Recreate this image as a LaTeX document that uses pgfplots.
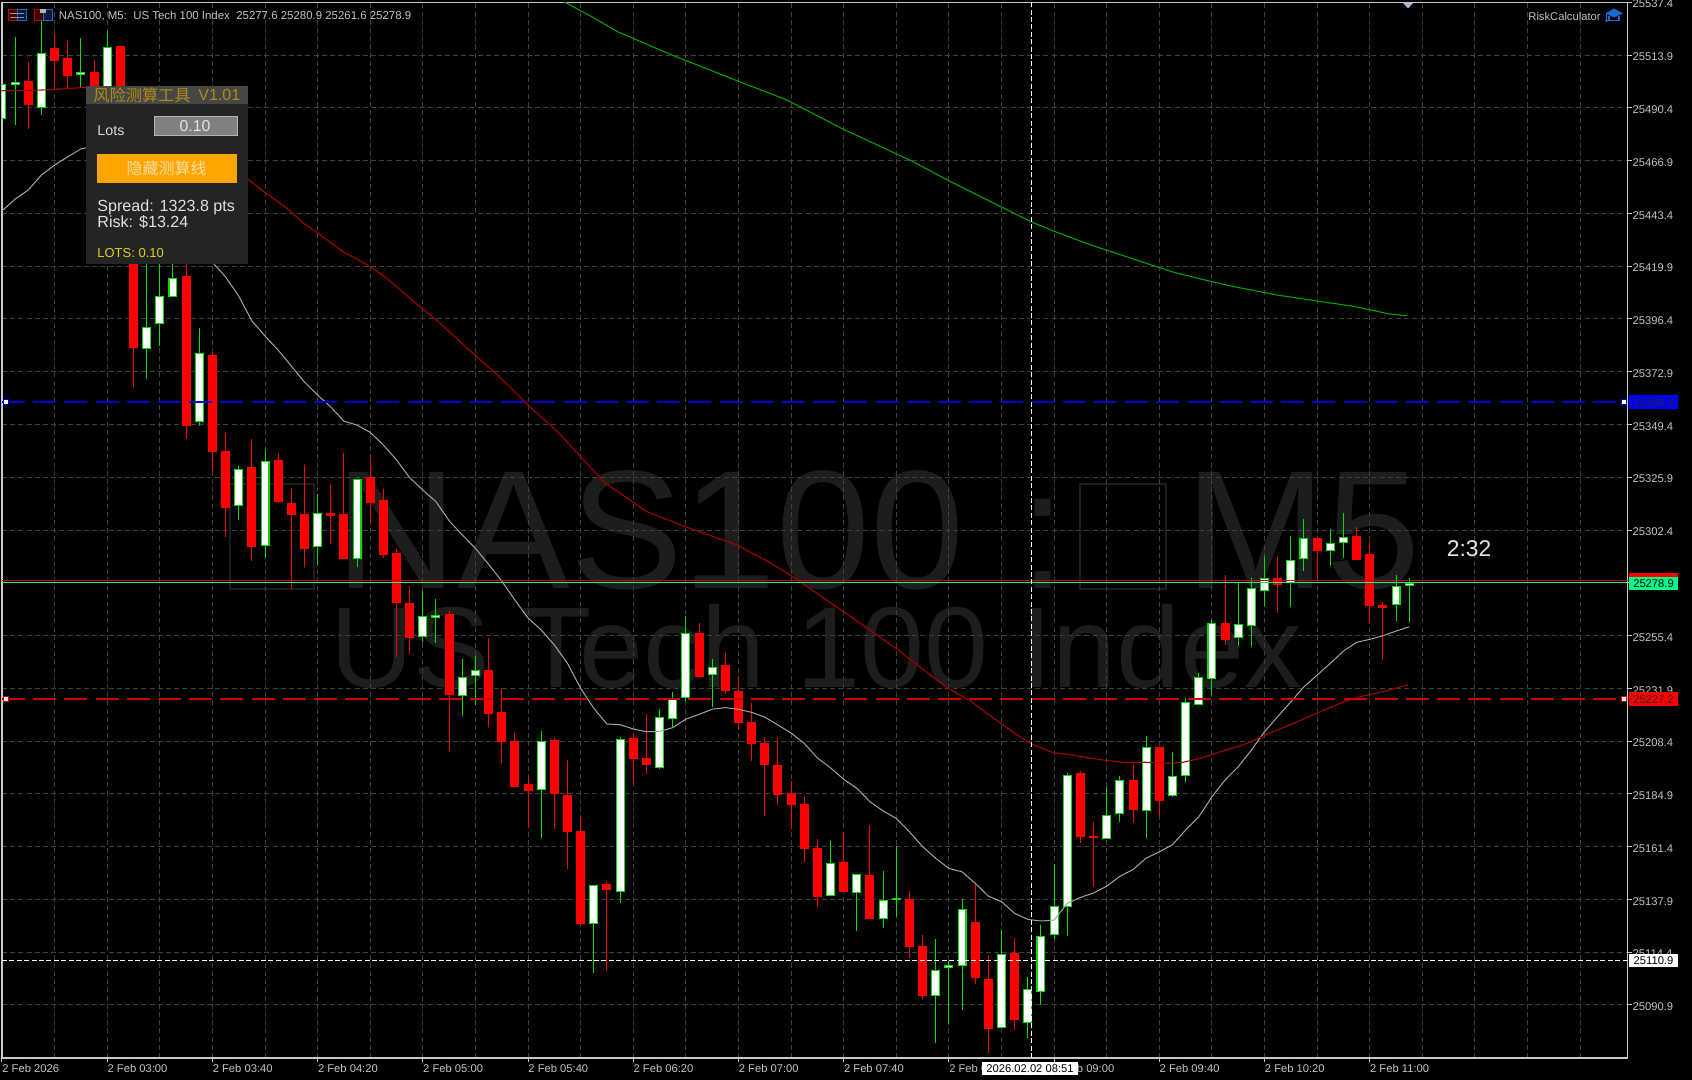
\documentclass[border=0pt]{standalone}
\usepackage{fontspec}
\setmainfont{Liberation Sans}
\newfontfamily\cjk{Noto Sans CJK SC}
\usepackage{pgfplots}
\usepackage{pgfplotstable}
\pgfplotsset{compat=1.18}

\definecolor{gridc}{RGB}{64,64,64}
\definecolor{axisc}{RGB}{200,200,200}
\definecolor{labelc}{RGB}{195,195,195}
\definecolor{wm}{RGB}{29,29,29}
\definecolor{bull}{RGB}{0,225,0}
\definecolor{bear}{RGB}{255,0,0}
\definecolor{magray}{RGB}{165,165,165}
\definecolor{mared}{RGB}{165,0,0}
\definecolor{magreen}{RGB}{0,160,0}
\definecolor{stopblue}{RGB}{0,0,215}
\definecolor{stopred}{RGB}{205,0,0}
\definecolor{bidc}{RGB}{0,250,140}
\definecolor{panel}{RGB}{36,36,36}
\definecolor{panelhead}{RGB}{70,70,70}
\definecolor{gold}{RGB}{175,140,20}
\definecolor{orangebtn}{RGB}{255,165,0}
\definecolor{capblue}{RGB}{25,105,210}

% rising bars, n open high low close
\pgfplotstableread{
n o h l c
0 25485.3 25501.0 25483.2 25501.0
1 25500.5 25521.8 25482.7 25501.8
3 25490.4 25531.7 25487.2 25514.9
6 25504.9 25521.5 25499.7 25506.2
8 25496.1 25524.6 25493.9 25517.6
11 25382.9 25427.1 25369.6 25392.9
12 25394.0 25424.8 25384.5 25406.6
13 25406.3 25422.6 25406.3 25414.5
15 25350.6 25392.2 25348.8 25381.3
18 25313.2 25330.9 25306.8 25329.4
20 25295.4 25338.0 25289.8 25333.1
24 25294.7 25318.3 25286.8 25310.1
27 25289.6 25325.0 25285.8 25325.0
32 25254.7 25275.4 25252.4 25264.0
33 25263.2 25271.5 25252.2 25264.7
35 25228.5 25244.9 25219.7 25236.8
36 25237.2 25246.3 25224.5 25239.9
41 25186.7 25212.9 25165.4 25208.3
45 25126.8 25144.4 25105.3 25144.4
47 25141.3 25210.4 25136.2 25209.5
50 25196.3 25222.6 25196.0 25219.0
51 25218.2 25230.4 25214.8 25227.7
52 25227.7 25264.1 25226.2 25256.4
54 25237.7 25244.8 25223.7 25241.5
63 25139.3 25163.9 25139.3 25154.2
65 25140.7 25149.3 25124.0 25149.3
67 25129.3 25150.4 25125.2 25137.5
68 25137.5 25161.7 25130.2 25138.4
71 25095.0 25120.3 25074.1 25106.3
72 25107.4 25110.5 25082.4 25108.5
73 25108.1 25137.9 25088.6 25133.8
76 25080.8 25124.3 25080.8 25113.7
78 25083.0 25103.2 25076.3 25097.9
79 25096.5 25126.5 25090.9 25121.5
80 25122.0 25153.5 25120.1 25135.1
81 25134.5 25194.0 25121.7 25193.4
84 25164.8 25188.1 25164.8 25175.3
85 25175.8 25192.9 25172.5 25191.2
87 25177.3 25210.7 25165.1 25205.8
89 25183.8 25203.5 25183.4 25193.0
90 25192.7 25227.4 25190.3 25225.9
91 25224.6 25238.8 25224.6 25237.1
92 25235.9 25262.3 25228.9 25261.0
94 25254.2 25278.7 25250.7 25260.4
95 25259.5 25280.9 25250.4 25276.4
96 25275.4 25290.8 25268.5 25281.1
98 25278.7 25299.9 25268.2 25289.2
99 25289.6 25307.3 25284.3 25298.7
101 25292.9 25302.7 25286.5 25296.5
102 25296.5 25310.1 25290.1 25299.4
106 25269.1 25282.4 25262.0 25277.5
107 25277.6 25280.9 25261.6 25278.9
}\upbars

% falling bars
\pgfplotstableread{
n o h l c
2 25502.5 25510.9 25480.8 25491.6
4 25517.2 25523.3 25499.2 25511.4
5 25512.4 25520.0 25499.2 25504.6
7 25506.3 25511.7 25493.9 25497.4
9 25517.9 25517.9 25487.2 25491.6
10 25471.6 25476.1 25366.1 25383.6
14 25415.5 25422.6 25343.0 25348.8
16 25380.3 25381.8 25327.6 25337.3
17 25337.6 25345.5 25299.4 25312.2
19 25330.3 25342.9 25288.6 25295.0
21 25333.6 25336.5 25314.5 25315.0
22 25314.4 25321.2 25276.0 25309.2
23 25309.4 25331.3 25285.8 25293.9
25 25310.1 25322.3 25296.3 25308.8
26 25309.4 25336.5 25289.5 25289.5
28 25326.1 25334.3 25305.8 25314.4
29 25315.7 25320.5 25289.8 25291.3
30 25292.1 25293.8 25246.0 25269.8
31 25269.9 25277.5 25247.0 25254.4
34 25264.9 25266.3 25204.0 25228.8
37 25239.9 25254.4 25214.8 25220.3
38 25221.4 25232.2 25198.8 25208.0
39 25208.4 25212.1 25188.1 25188.1
40 25189.2 25193.0 25170.3 25186.3
42 25208.9 25209.6 25169.4 25184.8
43 25184.4 25200.0 25151.3 25168.0
44 25168.2 25174.7 25126.0 25127.1
46 25144.8 25145.8 25105.9 25142.1
48 25209.9 25212.1 25190.0 25200.6
49 25200.9 25220.5 25193.7 25197.6
53 25256.4 25260.8 25237.1 25237.1
55 25242.1 25247.5 25229.4 25230.6
56 25230.7 25236.6 25213.8 25216.6
57 25216.9 25225.2 25199.4 25207.2
58 25207.4 25210.1 25175.2 25197.7
59 25197.9 25209.6 25179.9 25184.5
60 25185.1 25190.6 25169.1 25180.1
61 25180.4 25183.4 25154.4 25160.5
62 25160.9 25164.7 25134.6 25139.1
64 25154.4 25167.6 25141.3 25141.3
66 25148.8 25170.9 25129.3 25129.3
69 25137.9 25141.6 25111.9 25116.8
70 25117.1 25122.0 25093.6 25095.0
74 25128.0 25145.1 25100.2 25103.0
75 25102.3 25113.1 25069.6 25080.2
77 25113.9 25120.8 25079.7 25084.2
82 25194.2 25195.1 25163.1 25165.8
83 25166.3 25172.2 25143.6 25165.4
86 25190.9 25197.9 25172.1 25177.6
88 25205.9 25205.9 25174.5 25181.9
93 25260.8 25282.4 25251.2 25253.3
97 25281.1 25290.2 25265.6 25278.0
100 25298.8 25298.8 25280.6 25293.2
103 25299.6 25303.9 25289.2 25289.2
104 25291.8 25296.9 25260.8 25268.7
105 25268.9 25270.5 25244.5 25267.5
}\downbars

\pgfplotsset{
  seg/.style n args={3}{forget plot, mark=none, draw=#1, line width=#2, line cap=butt,
    quiver={u=0, v={#3}, every arrow/.append style={-, line cap=butt}}},
}

\begin{document}
\begin{tikzpicture}
\path[use as bounding box] (0pt,0pt) rectangle (846pt,540pt);
\fill[black] (0pt,0pt) rectangle (846pt,540pt);

% watermark, behind the grid; this scope counts in image pixels
\begin{scope}[shift={(0pt,540pt)},x=0.5pt,y=-0.5pt,every node/.style={inner sep=0pt,text=wm,anchor=base west}]
  \node at (335,589) {\fontsize{84.5}{90}\selectfont NAS100};
  \node at (1019,589) {\fontsize{84.5}{90}\selectfont :};
  \node at (1185,589) {\fontsize{84.5}{90}\selectfont M5};
  \node at (330,688) {\fontsize{57.5}{60}\selectfont US Tech 100 Index};
  \draw[wm,line width=1pt] (230,484) rectangle (314,589);
  \draw[wm,line width=1pt] (1080,484) rectangle (1166,589);
\end{scope}

\begin{axis}[
    at={(1pt,11pt)}, anchor=south west,
    scale only axis, width=812.75pt, height=527.85pt,
    xmin=0, xmax=123.6, ymin=25067.3, ymax=25537.4,
    axis line style={axisc, line width=0.6pt},
    xtick pos=bottom, ytick pos=right, tick align=outside,
    xtick={0,8,...,104},
    xticklabels={2 Feb 2026,2 Feb 03:00,2 Feb 03:40,2 Feb 04:20,2 Feb 05:00,2 Feb 05:40,2 Feb 06:20,2 Feb 07:00,2 Feb 07:40,2 Feb 08:20,2 Feb 09:00,2 Feb 09:40,2 Feb 10:20,2 Feb 11:00},
    minor xtick={4,12,...,100,108,112,116,120},
    ytick={25537.4,25513.9,25490.4,25466.9,25443.4,25419.9,25396.4,25372.9,25349.4,25325.9,25302.4,25278.9,25255.4,25231.9,25208.4,25184.9,25161.4,25137.9,25114.4,25090.9},
    major tick length=2pt, minor tick length=0pt,
    tick style={axisc, line width=0.5pt},
    grid=both,
    major grid style={gridc, line width=0.5pt, dash pattern=on 2.5pt off 1.6pt},
    minor grid style={gridc, line width=0.5pt, dash pattern=on 2.5pt off 1.6pt},
    tick label style={font=\fontsize{5.6}{6}\selectfont, text=labelc, inner sep=0pt},
    xticklabel style={anchor=north west, yshift=-1.2pt},
    yticklabel style={anchor=west, xshift=0.4pt, yshift=-0.9pt,
      /pgf/number format/.cd, fixed, fixed zerofill, precision=1, set thousands separator={}, assume math mode=true},
    scaled y ticks=false,
    clip=true,
  ]
% wicks
\addplot[seg={bull}{0.5pt}{\thisrow{h}-\thisrow{l}}] table[x=n, y=l] {\upbars};
\addplot[seg={bear}{0.5pt}{\thisrow{h}-\thisrow{l}}] table[x=n, y=l] {\downbars};
% bodies
\addplot[seg={bear}{4.5pt}{\thisrow{o}-\thisrow{c}}] table[x=n, y=c] {\downbars};
\addplot[seg={bull}{4.5pt}{\thisrow{c}-\thisrow{o}}] table[x=n, y=o] {\upbars};
\addplot[seg={white}{3.4pt}{max(\thisrow{c}-\thisrow{o}-0.9,0)}] table[x=n, y expr=\thisrow{o}+0.45] {\upbars};

% fast average
\addplot[magray, line width=0.5pt, forget plot] coordinates {
(0,25444.5)(1,25449.8)(2,25453.8)(3,25460.5)(4,25464.9)(5,25468.6)(6,25472.1)(7,25473.4)(8,25476.1)(9,25476.1)
(10,25471.6)(11,25464.9)(12,25456.0)(13,25447.1)(14,25436.0)(15,25427.1)(16,25421.7)(17,25415.1)(18,25406.6)(19,25395.5)
(20,25388.8)(21,25382.5)(22,25375.4)(23,25368.3)(24,25362.5)(25,25357.2)(26,25350.9)(27,25349.1)(28,25345.9)(29,25340.2)
(30,25333.6)(31,25325.7)(32,25320.2)(33,25315.0)(34,25306.5)(35,25300.2)(36,25294.2)(37,25287.1)(38,25279.7)(39,25271.2)
(40,25263.2)(41,25257.9)(42,25251.2)(43,25243.0)(44,25231.9)(45,25223.0)(46,25216.0)(47,25215.7)(48,25213.8)(49,25212.6)
(50,25212.7)(51,25214.4)(52,25218.2)(53,25220.3)(54,25222.6)(55,25223.3)(56,25222.6)(57,25221.2)(58,25219.1)(59,25215.6)
(60,25212.0)(61,25207.4)(62,25200.9)(63,25196.5)(64,25191.4)(65,25187.4)(66,25181.4)(67,25177.3)(68,25174.0)(69,25168.0)
(70,25161.4)(71,25156.2)(72,25151.7)(73,25150.2)(74,25145.1)(75,25139.4)(76,25136.9)(77,25131.7)(78,25129.0)(79,25128.3)
(80,25128.7)(81,25136.2)(82,25138.8)(83,25140.8)(84,25143.8)(85,25148.2)(86,25151.2)(87,25156.3)(88,25159.1)(89,25162.3)
(90,25168.8)(91,25174.7)(92,25183.6)(93,25191.1)(94,25197.0)(95,25204.4)(96,25212.6)(97,25219.3)(98,25225.9)(99,25232.6)
(100,25237.8)(101,25243.0)(102,25248.5)(103,25252.4)(104,25253.7)(105,25255.3)(106,25257.4)(107,25259.3)};
% middle average
\addplot[mared, line width=0.55pt, forget plot] coordinates {
(0,25498.0)(2.9,25498.3)(4,25498.6)(6.3,25499.5)(8,25494.8)(12,25482.7)(16,25469.4)(18.8,25458.2)(20.1,25452.3)(21.65,25445.8)
(22.9,25439.1)(24.05,25434.5)(25.93,25426.3)(27.81,25420.4)(29.26,25414.5)(31.01,25405.6)(33.04,25395.9)(35.95,25380.3)
(37.7,25371.4)(39.74,25359.5)(42.36,25345.5)(44.11,25334.3)(45.86,25323.4)(49.05,25310.5)(51.96,25303.9)(55.89,25295.7)
(58.51,25287.6)(60.68,25279.4)(64.18,25265.3)(67.97,25249.7)(71.75,25232.6)(73.61,25226.4)(74.88,25220.8)(75.89,25216.6)
(76.9,25212.3)(78.18,25207.4)(79.95,25203.2)(80.97,25202.6)(82.49,25201.1)(83.95,25199.8)(85.53,25198.8)(86.92,25199.0)
(88.82,25198.5)(89.83,25199.0)(91.1,25200.7)(92.87,25204.1)(94.14,25206.3)(95.16,25208.6)(96.17,25211.4)(98.2,25216.3)
(99.97,25220.8)(102,25225.9)(103.3,25228.2)(105,25230.4)(106.9,25233.4)};
% slow average
\addplot[magreen, line width=0.55pt, forget plot] coordinates {
(42.74,25537.6)(44.84,25531.0)(46.8,25524.3)(50.95,25513.9)(55.74,25502.8)(59.68,25493.9)(63.83,25481.3)(69.28,25466.4)
(71.91,25458.2)(75.83,25446.7)(78.24,25439.7)(79.98,25435.5)(82.81,25429.3)(87.83,25419.6)(89.15,25417.1)(91.98,25413.0)
(93.73,25410.7)(97.01,25407.0)(99.85,25404.5)(102.68,25402.1)(105.52,25398.6)(106.83,25397.8)};

% price lines
\addplot[stopblue, line width=1pt, dash pattern=on 11.5pt off 4.1pt, forget plot] coordinates {(0,25359.6)(123.05,25359.6)};
\addplot[stopred, line width=1pt, dash pattern=on 11.5pt off 4.1pt, forget plot] coordinates {(0,25227.2)(123.05,25227.2)};
\addplot[red!80!black, line width=0.5pt, forget plot] coordinates {(0,25280.1)(123.6,25280.1)};
\addplot[bidc, line width=0.5pt, forget plot] coordinates {(0,25278.9)(123.6,25278.9)};
% crosshair
\addplot[white, line width=0.5pt, dash pattern=on 2.5pt off 1.2pt, forget plot] coordinates {(0,25110.9)(123.6,25110.9)};
\addplot[white, line width=0.5pt, dash pattern=on 2.5pt off 1.2pt, forget plot] coordinates {(78.25,25067.3)(78.25,25537.4)};
\end{axis}

% labels, panel and icons, counted in image pixels
\begin{scope}[shift={(0pt,540pt)},x=0.5pt,y=-0.5pt]
  \tikzset{lab/.style={inner sep=0pt,font=\fontsize{5.6}{6}\selectfont}}
  % price flags
  \fill[blue] (1629.3,395) rectangle (1677.7,409);
  \node[lab,text=black!85] at (1653.5,402.5) {25359.6};
  \fill[red] (1629.3,692.3) rectangle (1677.7,706.3);
  \node[lab,text=black!85] at (1653.5,699.8) {25227.2};
  \fill[red] (1629.3,573) rectangle (1677.7,577);
  \fill[bidc] (1629.3,577) rectangle (1677.7,590.3);
  \node[lab,text=black] at (1653.5,584) {25278.9};
  \fill[white] (1629.3,954) rectangle (1677.7,967);
  \node[lab,text=black] at (1653.5,961) {25110.9};
  % line handles
  \foreach \y/\c in {402/stopblue,699/stopred}{
    \draw[\c,fill=white,line width=0.4pt] (1621.5,\y-2.5) rectangle (1626.5,\y+2.5);
    \draw[\c,fill=white,line width=0.4pt] (3,\y-2.5) rectangle (8,\y+2.5);
  }
  % crosshair date
  \fill[white] (982,1062) rectangle (1078,1075);
  \node[lab,text=black] at (1030,1068.5) {2026.02.02 08:51};
  % countdown
  \node[inner sep=0pt,text=white!90!black,font=\fontsize{11.4}{12}\selectfont] at (1469,549) {2:32};
  % header
  \node[inner sep=0pt,anchor=west,text=labelc,font=\fontsize{5.72}{6}\selectfont] at (58.5,16) {NAS100, M5:\ \ US Tech 100 Index\ \ 25277.6 25280.9 25261.6 25278.9};
  \draw[red!75!black,fill=red!25!black,line width=0.5pt] (8,9.5) rectangle (17,21);
  \draw[capblue,fill=capblue!25!black,line width=0.5pt] (17,9.5) rectangle (26,21);
  \draw[white!60!black,line width=0.4pt] (10,13)--(24,13) (10,17)--(24,17);
  \draw[red!75!black,fill=red!25!black,line width=0.5pt] (34.5,9.5) rectangle (43,21);
  \draw[capblue,fill=capblue!25!black,line width=0.5pt] (43,9.5) rectangle (52.5,21);
  \fill[white!70!black] (40,9) rectangle (46,13);
  % risk calculator badge
  \node[lab,anchor=west,text=labelc] at (1528,16.5) {RiskCalculator};
  \fill[capblue] (1605.5,13.5) -- (1614,8.5) -- (1623,13.5) -- (1614,17.5) -- cycle;
  \draw[capblue,line width=0.7pt] (1609,16.5) -- (1609,20.5) -- (1619,20.5) -- (1619,16.5);
  \draw[capblue,line width=0.5pt] (1606.5,14) -- (1606.5,19);
  \fill[capblue] (1606.5,20.5) circle (1.6);
  % current bar marker
  \fill[black!60!blue!30!white] (1403,3) -- (1413,3) -- (1408,8.5) -- cycle;
  % panel
  \fill[panel] (85.7,85.7) rectangle (247.7,264);
  \fill[panelhead] (85.7,85.7) rectangle (247.7,104.3);
  \node[inner sep=0pt,anchor=west,text=gold,font=\cjk\fontsize{8.1}{9}\selectfont] at (93,95) {风险测算工具};
  \node[inner sep=0pt,anchor=west,text=gold,font=\fontsize{8}{9}\selectfont] at (198,95) {V1.01};
  \node[inner sep=0pt,anchor=west,text=white!85!black,font=\fontsize{7.15}{8}\selectfont] at (97,130.5) {Lots};
  \draw[white!70!black,fill=white!50!black,line width=0.5pt] (154.5,117) rectangle (237,136);
  \node[inner sep=0pt,text=white!90!black,font=\fontsize{7.9}{9}\selectfont] at (195,126.5) {0.10};
  \fill[orangebtn] (97,154.3) rectangle (236.7,183);
  \node[inner sep=0pt,text=orangebtn!35!white,font=\cjk\fontsize{8}{9}\selectfont] at (166.7,168.5) {隐藏测算线};
  \node[inner sep=0pt,anchor=west,text=white!88!black,font=\fontsize{8.05}{9}\selectfont] at (97,207) {Spread: 1323.8 pts};
  \node[inner sep=0pt,anchor=west,text=white!88!black,font=\fontsize{8.05}{9}\selectfont] at (97,222.5) {Risk: \$13.24};
  \node[inner sep=0pt,anchor=west,text=yellow!85!black,font=\fontsize{6.5}{8}\selectfont] at (97,252.7) {LOTS: 0.10};
\end{scope}
\end{tikzpicture}
\end{document}
